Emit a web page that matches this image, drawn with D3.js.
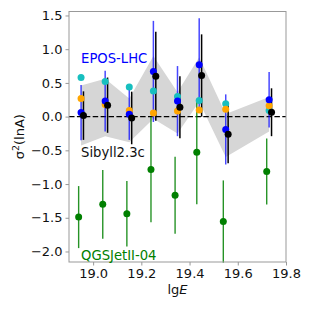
<!DOCTYPE html>
<html>
<head>
<meta charset="utf-8">
<script src="https://cdn.jsdelivr.net/npm/d3@7"></script>
<style>
  html, body { margin: 0; padding: 0; background: #fff; }
  svg { display: block; font-family: "DejaVu Sans", sans-serif; }
</style>
</head>
<body>
<script>
// bin centres (lg E) and model predictions of sigma^2(lnA)
var lgE = [18.95, 19.05, 19.15, 19.25, 19.35, 19.44, 19.55, 19.73];
var eposVal = [0.06, 0.23, 0.035, 0.67, 0.23, 0.77, -0.19, 0.25];
var eposErr = [0.41, 0.45, 0.38, 0.75, 0.52, 0.69, 0.52, 0.41];
var sibyllVal = [0.015, 0.17, -0.02, 0.60, 0.14, 0.61, -0.26, 0.065];
var sibyllErr = [0.36, 0.41, 0.39, 0.66, 0.46, 0.61, 0.43, 0.355];
var qgsVal = [-1.49, -1.30, -1.44, -0.785, -1.166, -0.53, -1.556, -0.815];
var qgsErr = [0.46, 0.51, 0.485, 0.78, 0.57, 0.77, 0.61, 0.49];
var cyanVal = [0.58, 0.52, 0.44, 0.38, 0.30, 0.24, 0.19, 0.09];
var orangeVal = [0.27, 0.18, 0.09, 0.055, 0.085, 0.10, 0.11, 0.16];
var bandHi = [0.46, 0.56, 0.27, 0.90, 0.36, 0.88, 0.04, 0.29];
var bandLo = [-0.43, -0.29, -0.38, -0.03, -0.25, 0.22, -0.60, -0.22];

var xTicks = [19.0, 19.2, 19.4, 19.6, 19.8];
var yTicks = [1.5, 1.0, 0.5, 0.0, -0.5, -1.0, -1.5, -2.0];

var width = 311, height = 310;
var margin = {left: 69, right: 25, top: 11.5, bottom: 48};

var svg = d3.select("body").append("svg")
    .attr("width", width)
    .attr("height", height);

var x = d3.scaleLinear().domain([18.9, 19.8]).range([margin.left, width - margin.right]);
var y = d3.scaleLinear().domain([-2.156, 1.559]).range([height - margin.bottom, margin.top]);

var fmt = function (d) { return d3.format(".1f")(d).replace("-", "\u2212"); };
var dx = 0.01; // small horizontal offset between models

// grey band
var band = d3.area()
    .x(function (d, i) { return x(lgE[i]); })
    .y0(function (d, i) { return y(bandLo[i]); })
    .y1(function (d, i) { return y(bandHi[i]); });

svg.append("path")
    .datum(lgE)
    .attr("d", band)
    .attr("fill", "#d6d6d6");

// zero line
svg.append("line")
    .attr("x1", x.range()[0]).attr("x2", x.range()[1])
    .attr("y1", y(0)).attr("y2", y(0))
    .attr("stroke", "#000")
    .attr("stroke-width", 1.3)
    .attr("stroke-dasharray", "5.5,2.4");

function errBars(vals, errs, shift, color, sw, op) {
    svg.append("g").selectAll("line")
        .data(vals)
        .enter().append("line")
        .attr("x1", function (d, i) { return x(lgE[i] + shift); })
        .attr("x2", function (d, i) { return x(lgE[i] + shift); })
        .attr("y1", function (d, i) { return y(d - errs[i]); })
        .attr("y2", function (d, i) { return y(d + errs[i]); })
        .attr("stroke", color)
        .attr("stroke-opacity", op)
        .attr("stroke-width", sw);
}

function dots(vals, shift, color) {
    svg.append("g").selectAll("circle")
        .data(vals)
        .enter().append("circle")
        .attr("cx", function (d, i) { return x(lgE[i] + shift); })
        .attr("cy", function (d) { return y(d); })
        .attr("r", 3.5)
        .attr("fill", color);
}

errBars(qgsVal, qgsErr, -dx, "green", 1.4, 0.85);
dots(qgsVal, -dx, "green");
errBars(eposVal, eposErr, 0, "blue", 1.5, 0.72);
errBars(sibyllVal, sibyllErr, dx, "black", 1.5, 1);
dots(cyanVal, 0, "#17bfbf");
dots(orangeVal, 0, "orange");
dots(eposVal, 0, "blue");
dots(sibyllVal, dx, "black");

// frame
svg.append("rect")
    .attr("x", x.range()[0]).attr("y", y.range()[1])
    .attr("width", x.range()[1] - x.range()[0])
    .attr("height", y.range()[0] - y.range()[1])
    .attr("fill", "none")
    .attr("stroke", "#999")
    .attr("stroke-width", 1);

var xAxis = svg.append("g")
    .attr("transform", "translate(0," + y.range()[0] + ")")
    .call(d3.axisBottom(x).tickValues(xTicks).tickFormat(d3.format(".1f")).tickSize(3.5).tickPadding(3));
var yAxis = svg.append("g")
    .attr("transform", "translate(" + x.range()[0] + ",0)")
    .call(d3.axisLeft(y).tickValues(yTicks).tickFormat(fmt).tickSize(3.5).tickPadding(3));

[xAxis, yAxis].forEach(function (ax) {
    ax.select(".domain").remove();
    ax.selectAll(".tick line").attr("stroke", "#999");
    ax.selectAll(".tick text")
        .attr("fill", "#111")
        .style("font-size", "13px")
        .style("font-family", "DejaVu Sans, sans-serif");
});

// axis labels
var xl = svg.append("text")
    .attr("x", (x.range()[0] + x.range()[1]) / 2)
    .attr("y", 294)
    .attr("text-anchor", "middle")
    .style("font-size", "13px")
    .attr("fill", "#111");
xl.append("tspan").text("lg");
xl.append("tspan").style("font-style", "italic").text("E");

var yl = svg.append("text")
    .attr("transform", "translate(24," + (y.range()[0] + y.range()[1]) / 2 + ") rotate(-90)")
    .attr("text-anchor", "middle")
    .style("font-size", "13px")
    .attr("fill", "#111");
yl.append("tspan").text("\u03c3");
yl.append("tspan").attr("dy", "-5").style("font-size", "9.5px").text("2");
yl.append("tspan").attr("dy", "5").text("(lnA)");

// model labels
var labels = [
    {t: "EPOS-LHC", c: "blue", v: 0.87},
    {t: "Sibyll2.3c", c: "#111", v: -0.53},
    {t: "QGSJetII-04", c: "green", v: -2.06}
];
svg.selectAll(".mlabel")
    .data(labels)
    .enter().append("text")
    .attr("class", "mlabel")
    .attr("x", x(18.95))
    .attr("y", function (d) { return y(d.v); })
    .attr("dy", "0.35em")
    .attr("fill", function (d) { return d.c; })
    .style("font-size", "13.2px")
    .text(function (d) { return d.t; });
</script>
</body>
</html>
